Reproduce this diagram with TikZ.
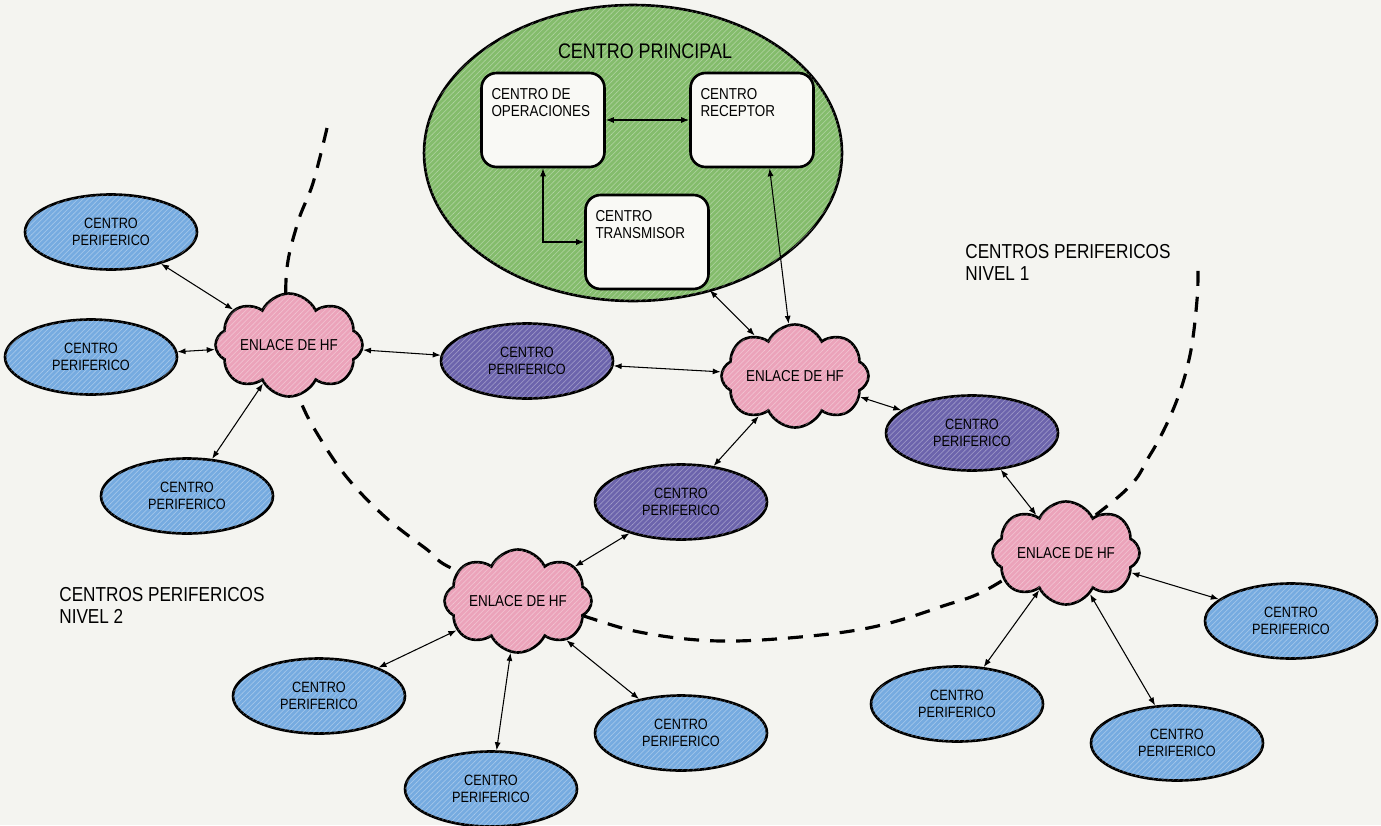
\documentclass[tikz,border=0pt]{standalone}
\usepackage{fontspec}
\setmainfont{Liberation Sans}[FakeStretch=0.85]
\usepackage{tikz}
\usetikzlibrary{arrows.meta}
\usetikzlibrary{shapes.geometric, shapes.symbols, patterns}

\definecolor{papel}{HTML}{F4F4F0}
\definecolor{verde}{HTML}{84BC6C}
\definecolor{rosa}{HTML}{EBA3BA}
\definecolor{violeta}{HTML}{6C64AC}
\definecolor{azul}{HTML}{76ABE0}
\definecolor{caja}{HTML}{F9F9F5}

% texto de las cajas del centro principal, arriba a la izquierda
\newcommand{\cajatexto}[1]{\parbox[c][1.28cm][t]{2.06cm}{\raggedright #1}}

\tikzset{
    trama/.style={postaction={pattern=north east lines, pattern color=white, opacity=0.3}},
    periferico/.style={ellipse, draw, line width=1.5pt, fill=azul, trama,
        minimum width=3.44cm, minimum height=1.5cm, inner sep=0pt,
        align=center, font=\fontsize{8.5}{9.8}\selectfont},
    nivel1/.style={periferico, fill=violeta},
    enlace/.style={cloud, cloud puffs=8, cloud puff arc=130, cloud ignores aspect,
        draw, line width=1.5pt, fill=rosa, trama,
        minimum width=2.94cm, minimum height=2.06cm, inner sep=0pt,
        font=\fontsize{9}{10}\selectfont},
    centro/.style={draw, line width=1.5pt, rounded corners=0.3cm, fill=caja,
        inner xsep=0.2cm, inner ysep=0.3cm, font=\fontsize{9}{10.2}\selectfont},
    rotulo/.style={align=left, inner sep=0pt, font=\fontsize{11.5}{12.5}\selectfont},
    flecha/.style={<->, >={Latex[length=1.6mm,width=1.2mm]}, line width=0.6pt}
}

\begin{document}
\begin{tikzpicture}[x=0.02cm, y=-0.02cm]
\fill[papel] (0,0) rectangle (1381,825);
\useasboundingbox (0,0) rectangle (1381,825);

% limite entre nivel 1 y nivel 2
\draw[line width=1.8pt, dash pattern=on 0.3cm off 0.22cm]
    plot[smooth, tension=0.6] coordinates {(327,128) (313,183) (297,225) (286,280)
    (290,370) (300,400) (315,430) (345,475) (383,515) (425,548) (460,572)
    (590,618) (650,634) (720,641) (800,637) (873,627) (940,607) (1000,582)
    (1117,498) (1150,455) (1175,405) (1190,355) (1197,300) (1198,265)};

% centro principal
\node[ellipse, draw, line width=1.5pt, fill=verde, trama,
    minimum width=8.36cm, minimum height=5.92cm] (principal) at (633,153) {};
\node[anchor=base, inner sep=0pt, font=\fontsize{12}{13}\selectfont] (titulo) at (645,58) {CENTRO PRINCIPAL};
\node[centro] (oper) at (543,120) {\cajatexto{CENTRO DE\\OPERACIONES}};
\node[centro] (recep) at (752,120) {\cajatexto{CENTRO\\RECEPTOR}};
\node[centro] (trans) at (647,242) {\cajatexto{CENTRO\\TRANSMISOR}};

% enlaces de HF
\node[enlace] (hfl) at (289,345) {ENLACE DE HF};
\node[enlace] (hfc) at (795,376) {ENLACE DE HF};
\node[enlace] (hfb) at (518,601) {ENLACE DE HF};
\node[enlace] (hfr) at (1066,553) {ENLACE DE HF};

% centros perifericos nivel 1
\node[nivel1] (p1) at (527,361) {CENTRO\\PERIFERICO};
\node[nivel1] (p2) at (972,433) {CENTRO\\PERIFERICO};
\node[nivel1] (p3) at (681,502) {CENTRO\\PERIFERICO};

% centros perifericos nivel 2
\node[periferico] (e1) at (111,232) {CENTRO\\PERIFERICO};
\node[periferico] (e2) at (91,357) {CENTRO\\PERIFERICO};
\node[periferico] (e3) at (187,496) {CENTRO\\PERIFERICO};
\node[periferico] (b1) at (319,696) {CENTRO\\PERIFERICO};
\node[periferico] (b2) at (491,789) {CENTRO\\PERIFERICO};
\node[periferico] (b3) at (681,733) {CENTRO\\PERIFERICO};
\node[periferico] (r1) at (957,704) {CENTRO\\PERIFERICO};
\node[periferico] (r2) at (1177,743) {CENTRO\\PERIFERICO};
\node[periferico] (r3) at (1291,621) {CENTRO\\PERIFERICO};

\node[rotulo, anchor=base west] (niv1) at (965,280) {CENTROS PERIFERICOS\\NIVEL 1};
\node[rotulo, anchor=base west] (niv2) at (59,623) {CENTROS PERIFERICOS\\NIVEL 2};

% conexiones
\draw[flecha] (oper) -- (recep);
\draw[flecha] (oper) |- (trans);
\draw[flecha] (recep.290) -- (hfc);
\draw[flecha] (trans.south east) -- (hfc);

\draw[flecha] (e1) -- (hfl);
\draw[flecha] (e2) -- (hfl);
\draw[flecha] (e3) -- (hfl);
\draw[flecha] (hfl) -- (p1);
\draw[flecha] (p1) -- (hfc);
\draw[flecha] (hfc) -- (p2);
\draw[flecha] (hfc) -- (p3);
\draw[flecha] (p3) -- (hfb);
\draw[flecha] (p2) -- (hfr);

\draw[flecha] (hfb) -- (b1);
\draw[flecha] (hfb) -- (b2);
\draw[flecha] (hfb) -- (b3);
\draw[flecha] (hfr) -- (r1);
\draw[flecha] (hfr) -- (r2);
\draw[flecha] (hfr) -- (r3);
\end{tikzpicture}
\end{document}
